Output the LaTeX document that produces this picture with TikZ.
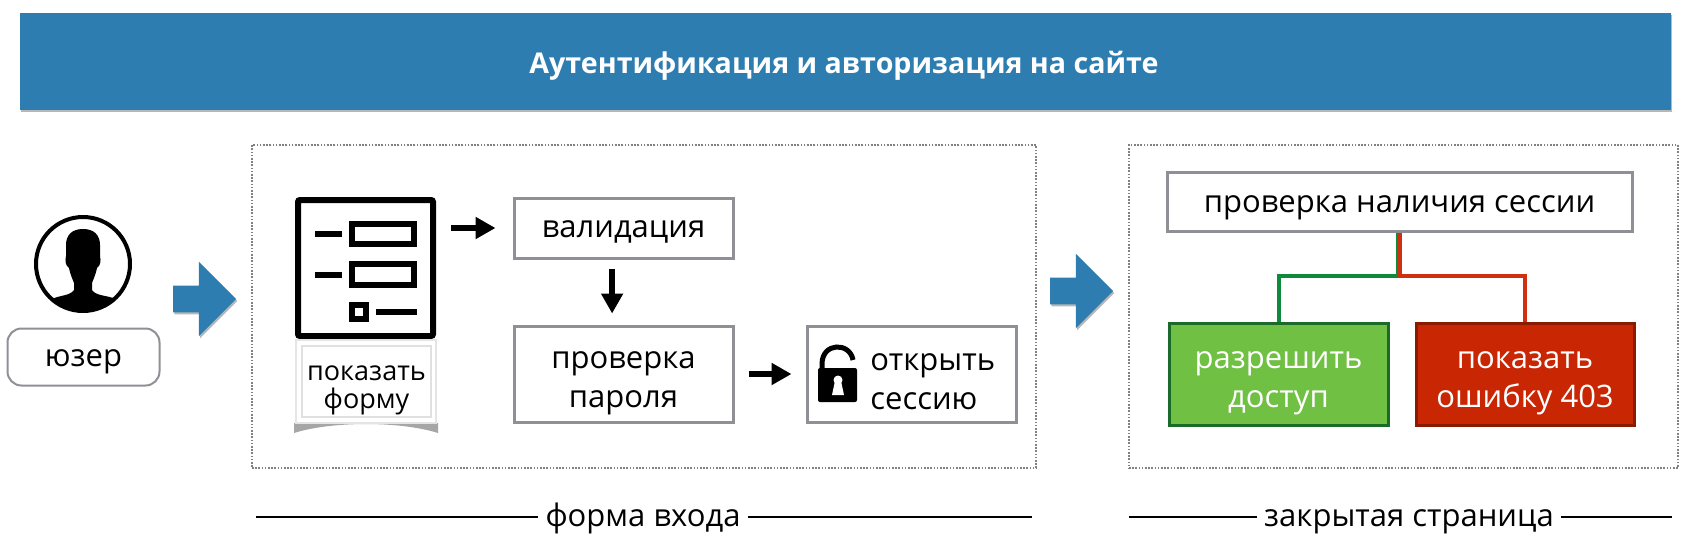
\documentclass[tikz,border=0pt]{standalone}
\usepackage{fontspec}
\setmainfont{Open Sans}
\usetikzlibrary{arrows.meta,shadows,shapes.arrows,calc}
\definecolor{band}{HTML}{2E7DB0}
\definecolor{edgegray}{HTML}{8E9095}
\definecolor{okfill}{HTML}{70C043}
\definecolor{okedge}{HTML}{1A6B2A}
\definecolor{okline}{HTML}{0E8A3A}
\definecolor{nofill}{HTML}{C92604}
\definecolor{noedge}{HTML}{8A1A00}
\definecolor{noline}{HTML}{D03010}
\newcommand{\lowfirst}{\rule{0pt}{17.4pt}}
\tikzset{
  softshadow/.style={drop shadow={shadow xshift=0.6pt,shadow yshift=-1pt,opacity=.4,fill=black!70}},
  txt/.style={font=\fontsize{15.5pt}{19.5pt}\selectfont,align=center,text=black,inner sep=0pt,
    execute at begin node={\rule{0pt}{13pt}},execute at end node={\rule[-3.5pt]{0pt}{0pt}}},
  wtxt/.style={txt,text=white},
  boxed/.style={draw=edgegray,line width=1.5pt,fill=white,inner sep=0pt},
  okbox/.style={draw=okedge,fill=okfill,line width=1.5pt,inner sep=0pt},
  nobox/.style={draw=noedge,fill=nofill,line width=1.5pt,inner sep=0pt},
  dotframe/.style={draw=black!50,line width=.7pt,dash pattern=on .8pt off .8pt},
  bigarrow/.style={single arrow,fill=band,draw=none,minimum height=31.5pt,minimum width=37pt,single arrow head extend=12pt,single arrow tip angle=90,inner xsep=0pt,inner ysep=6.5pt,softshadow},
  flow/.style={-{Triangle[length=10pt,width=10.5pt]},line width=2.8pt,black},
  iconline/.style={line width=3pt,black},
  rule/.style={line width=.9pt,black},
}
\begin{document}
\begin{tikzpicture}[x=0.5pt,y=-0.5pt]
\useasboundingbox (0,0) rectangle (1684,547);
% title band
\node[fill=band,minimum width=825.5pt,minimum height=48.5pt,inner sep=0pt,softshadow] (title) at (845.5,61.5) {};
\node[txt,font=\fontsize{14.3pt}{19pt}\bfseries\selectfont,text=white] (titletxt) at (844,64) {Аутентификация и авторизация на сайте};
% frames
\node[dotframe,minimum width=392pt,minimum height=161.5pt,inner sep=0pt] (frameA) at (644,306.5) {};
\node[dotframe,minimum width=274.5pt,minimum height=161.5pt,inner sep=0pt] (frameB) at (1403.5,306.5) {};
% user
\node[circle,draw=black,line width=2pt,fill=white,minimum size=47pt,inner sep=0pt] (avatar) at (83,264) {};
\begin{scope}
\clip (83,264) circle [radius=47];
\fill[black] (83,229) .. controls (72,229) and (66,235) .. (66,245)
  -- (66,256) .. controls (65,260) and (65,265) .. (69,268)
  .. controls (70,274) and (73,280) .. (74,283)
  -- (74,290) .. controls (70,296) and (60,295) .. (52,299)
  -- (52,320) -- (116,320) -- (116,299)
  .. controls (106,295) and (96,296) .. (92,290)
  -- (92,283) .. controls (93,280) and (96,274) .. (97,268)
  .. controls (101,265) and (101,260) .. (100,256)
  -- (100,245) .. controls (100,235) and (94,229) .. (83,229) -- cycle;
\end{scope}
\node[draw=edgegray,line width=1pt,rounded corners=7pt,fill=white,minimum width=76pt,minimum height=28.5pt,txt] (user) at (83.5,357) {юзер};
% big arrows
\node[bigarrow] (arrowA) at (198,299) {};
\node[bigarrow] (arrowB) at (1075,291) {};
% form icon
\node[draw=black,line width=3pt,rounded corners=1pt,minimum width=67.5pt,minimum height=68pt,inner sep=0pt] (form) at (365.5,268) {};
\draw[iconline] (315,234) -- (342,234);
\draw[iconline] (352,224) rectangle (414,244);
\draw[iconline] (315,275) -- (342,275);
\draw[iconline] (352,264) rectangle (414,285);
\draw[iconline] (352,305) rectangle (366,319);
\draw[iconline] (376,312) -- (417,312);
% caption card
\fill[black!35] (294,423) -- (438,423) -- (438,433) .. controls (400,421) and (332,421) .. (294,433) -- cycle;
\node[draw=black!10,line width=1pt,fill=white,minimum width=70pt,minimum height=41.5pt,inner sep=0pt] (card) at (366,381) {};
\node[draw=black!12,line width=.6pt,fill=white,minimum width=64.5pt,minimum height=35.5pt,txt,font=\fontsize{13.5pt}{13.6pt}\selectfont] (cardtxt) at (366.5,381.5) {\rule{0pt}{16.5pt}показать\\форму};
% process boxes
\node[boxed,txt,minimum width=109.5pt,minimum height=30pt] (valid) at (623.5,228) {валидация};
\node[boxed,txt,minimum width=109.5pt,minimum height=48pt] (pass) at (623.5,374) {\lowfirst проверка\\пароля};
\node[boxed,minimum width=104.5pt,minimum height=48pt] (sess) at (911.5,374) {};
\node[txt,anchor=west,align=left] (sesstxt) at (870,376) {\lowfirst открыть\\сессию};
% lock
\fill[black,rounded corners=1pt] (818,368) rectangle (857,402);
\draw[line width=2.5pt,black] (822,369) -- (822,364) .. controls (822,342) and (850,342) .. (853,360);
\fill[white] (838,380) circle [radius=4.5];
\fill[white] (835,381) -- (841,381) -- (844,395) -- (832,395) -- cycle;
% flow arrows
\draw[flow,shorten <=7.5pt,shorten >=8.5pt] (form.east |- valid.west) -- (valid.west);
\draw[flow,shorten <=4.5pt,shorten >=5.5pt] ([xshift=-5.7pt]valid.south) -- ([xshift=-5.7pt]pass.north);
\draw[flow,shorten <=7pt,shorten >=7pt] (pass.east) -- (sess.west);
% right
\node[boxed,minimum width=232.5pt,minimum height=29.5pt] (check) at (1399.5,201.5) {};
\node[txt] (checktxt) at (1399.5,203.5) {проверка наличия сессии};
\node[okbox,wtxt,minimum width=109.5pt,minimum height=51pt] (allow) at (1278.5,374) {\lowfirst разрешить\\доступ};
\node[nobox,wtxt,minimum width=109pt,minimum height=51pt] (deny) at (1525,374) {\lowfirst показать\\ошибку 403};
\draw[okline,line width=2pt] ([xshift=-1pt]check.south) |- (1338,276) -| (allow.north);
\draw[noline,line width=2pt] ([xshift=0pt]check.south) ++(0.5,0) |- (1462,276) -| (deny.north);
% bottom labels
\node[txt] (lblA) at (643,517) {форма входа};
\coordinate (lA1) at (256,517);
\coordinate (lA2) at (1032,517);
\draw[rule] (lA1) -- ([xshift=-3.5pt]lblA.west);
\draw[rule] ([xshift=3.5pt]lblA.east) -- (lA2);
\node[txt] (lblB) at (1409,517) {закрытая страница};
\coordinate (lB1) at (1129,517);
\coordinate (lB2) at (1672,517);
\draw[rule] (lB1) -- ([xshift=-3.5pt]lblB.west);
\draw[rule] ([xshift=3.5pt]lblB.east) -- (lB2);
\end{tikzpicture}
\end{document}
